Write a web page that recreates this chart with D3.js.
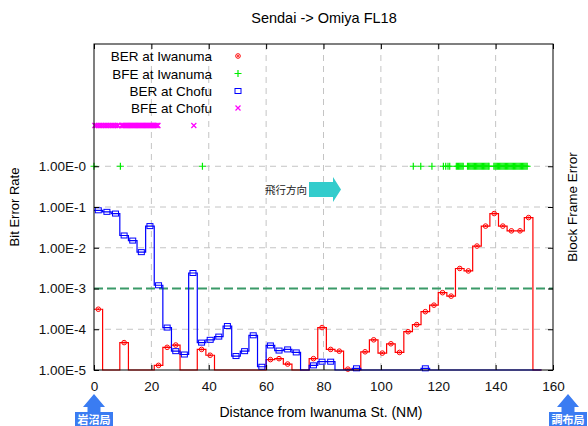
<!DOCTYPE html>
<html>
<head>
<meta charset="utf-8">
<script src="https://cdn.jsdelivr.net/npm/d3@7"></script>
<style>
body{margin:0;background:#fff;}
svg{font-family:"Liberation Sans",Arial,sans-serif;}
</style>
</head>
<body>
<svg id="chart" width="588" height="426"></svg>
<script>
// distance (NM) of each 3 NM sample
let berX=[1.5,4.5,7.5,10.5,13.5,16.5,19.5,22.5,25.5,28.5,31.5,34.5,37.5,40.5,43.5,46.5,49.5,52.5,55.5,58.5,
  61.5,64.5,67.5,70.5,73.5,76.5,79.5,82.5,85.5,88.5,91.5,94.5,97.5,100.5,103.5,106.5,109.5,112.5,115.5,118.5,
  121.5,124.5,127.5,130.5,133.5,136.5,139.5,142.5,145.5,148.5,151.5,154.5];
// 0 = no error measured (drawn on the bottom axis)
let berIwanuma=[3.1e-4,0,0,4.7e-5,0,0,0,1.3e-5,3.6e-5,4.1e-5,0,0,3.2e-5,2.3e-5,0,0,0,0,0,0,
  1.8e-5,1.9e-5,1.4e-5,0,0,1.9e-5,1.1e-4,3.2e-5,2.9e-5,1.05e-5,0,2.8e-5,5.5e-5,2.6e-5,4.4e-5,2.7e-5,8.7e-5,1.3e-4,2.7e-4,3.9e-4,
  7.9e-4,6.5e-4,3.1e-3,2.7e-3,1.1e-2,3.4e-2,6.9e-2,3.4e-2,2.6e-2,2.6e-2,5.5e-2,0];
let berChofu=[8.3e-2,7.6e-2,6.9e-2,2.0e-2,1.5e-2,7.8e-3,3.4e-2,1.2e-3,1.1e-4,2.9e-5,2.4e-5,2.4e-3,4.7e-5,5.5e-5,6.6e-5,1.2e-4,2.2e-5,2.9e-5,7.1e-5,1.2e-5,
  4.0e-5,3.0e-5,3.2e-5,2.7e-5,0,1.3e-5,1.6e-5,1.6e-5,0,0,1.1e-5,0,0,0,0,0,0,0,1.1e-5,0,
  0,0,0,0,0,0,0,0,0,0,0,0];
// block frame error events (distance, NM)
let bfeIwanuma=[0,9.2,37.8,111.3,113.9,117.8,121.8,122.6,123.4,124.0,
  126.3,126.7,127.1,127.5,127.9,128.3,128.7,
  130.2,130.6,131.0,131.4,131.8,132.2,132.6,133.0,133.4,133.8,134.2,134.6,135.0,135.4,135.8,136.2,136.6,137.0,137.4,137.7,
  139.4,139.8,140.2,140.6,141.0,141.4,141.8,142.2,142.6,143.0,143.4,143.8,144.2,144.6,145.0,145.4,145.8,146.2,146.6,
  147.0,147.4,147.8,148.2,148.6,149.0,149.4,149.8,150.2,150.6,151.0];
let bfeChofu=[0.3,0.9,1.5,2.1,2.7,3.3,3.9,4.5,5.1,5.7,6.3,6.9,7.5,8.1,8.4,
  9.6,10.0,10.4,10.8,11.2,11.6,12.0,12.4,12.8,13.2,13.6,14.0,14.4,14.8,15.2,15.6,16.0,16.4,16.8,17.2,17.6,18.0,
  18.4,18.8,19.2,19.6,20.0,20.4,20.8,21.2,21.6,22.0,22.3,34.8];
let xTicks=[0,20,40,60,80,100,120,140,160];
let yTicks=[1e-5,1e-4,1e-3,1e-2,1e-1,1e0];
let yTickLabels=['1.00E-5','1.00E-4','1.00E-3','1.00E-2','1.00E-1','1.00E-0'];
let threshold=1e-3;

let svg=d3.select('#chart');
let pLeft=94, pRight=553, pTop=44, pBottom=370;
let xScale=d3.scaleLinear().domain([0,160]).range([pLeft,pRight]);
let yScale=d3.scaleLog().domain([1e-5,1e3]).range([pBottom,pTop]);
let yv=v=>yScale(v>0?v:1e-5);

// grid
let grid=svg.append('g').attr('stroke','#c4c4c4').attr('stroke-dasharray','6,5').attr('stroke-width',1);
xTicks.filter(d=>d>0&&d<160).forEach(d=>{
  grid.append('line').attr('x1',xScale(d)).attr('x2',xScale(d)).attr('y1',pTop).attr('y2',pBottom);
});
yTicks.filter(d=>d>1e-5&&d!=threshold).forEach(d=>{
  grid.append('line').attr('x1',pLeft).attr('x2',pRight).attr('y1',yScale(d)).attr('y2',yScale(d));
});

// threshold line
svg.append('line').attr('x1',pLeft).attr('x2',pRight).attr('y1',yScale(threshold)).attr('y2',yScale(threshold))
  .attr('stroke','#3a9a68').attr('stroke-width',2).attr('stroke-dasharray','9,4');

// histeps
let stepPts=(vals)=>{
  let pts=[];
  vals.forEach((v,i)=>{pts.push([berX[i]-1.5,v]);pts.push([berX[i]+1.5,v]);});
  return pts;
};
let line=d3.line().x(d=>xScale(d[0])).y(d=>yv(d[1]));

svg.append('path').attr('d',line(stepPts(berIwanuma))).attr('fill','none').attr('stroke','#ff0000').attr('stroke-width',1.2);
svg.append('g').selectAll('g').data(berX.map((x,i)=>[x,berIwanuma[i]]).filter(d=>d[1]>0)).enter().append('g')
  .attr('transform',d=>'translate('+xScale(d[0])+','+yScale(d[1])+')')
  .each(function(){
    let g=d3.select(this);
    g.append('circle').attr('r',2.3).attr('fill','none').attr('stroke','#ff0000').attr('stroke-width',1);
    g.append('circle').attr('r',1).attr('fill','#ff0000');
  });

svg.append('path').attr('d',line(stepPts(berChofu))).attr('fill','none').attr('stroke','#0000ff').attr('stroke-width',1.2);
svg.append('g').selectAll('rect').data(berX.map((x,i)=>[x,berChofu[i]]).filter(d=>d[1]>0)).enter().append('rect')
  .attr('x',d=>xScale(d[0])-3).attr('y',d=>yScale(d[1])-2.5).attr('width',6).attr('height',5)
  .attr('fill','none').attr('stroke','#0000ff').attr('stroke-width',1);

// BFE markers
svg.append('g').attr('stroke','#00ee00').attr('stroke-width',1.2).selectAll('path').data(bfeIwanuma).enter().append('path')
  .attr('d',d=>{let cx=xScale(d),cy=yScale(1);return 'M'+(cx-3.5)+','+cy+'H'+(cx+3.5)+'M'+cx+','+(cy-3.5)+'V'+(cy+3.5);});
svg.append('g').attr('stroke','#ff00ff').attr('stroke-width',1.2).selectAll('path').data(bfeChofu).enter().append('path')
  .attr('d',d=>{let cx=xScale(d),cy=yScale(10),s=2.5;return 'M'+(cx-s)+','+(cy-s)+'L'+(cx+s)+','+(cy+s)+'M'+(cx-s)+','+(cy+s)+'L'+(cx+s)+','+(cy-s);});

// axes
let axL=d3.axisLeft(yScale).tickValues(yTicks).tickFormat((d,i)=>yTickLabels[i]).tickSizeInner(-5).tickSizeOuter(0).tickPadding(8);
let axR=d3.axisRight(yScale).tickValues(yTicks).tickFormat('').tickSizeInner(-5).tickSizeOuter(0);
let axB=d3.axisBottom(xScale).tickValues(xTicks).tickFormat(d3.format('d')).tickSizeInner(-5).tickSizeOuter(0).tickPadding(11);
let axT=d3.axisTop(xScale).tickValues(xTicks).tickFormat('').tickSizeInner(-5).tickSizeOuter(0);
[[axL,'translate('+pLeft+',0)'],[axR,'translate('+pRight+',0)'],[axB,'translate(0,'+pBottom+')'],[axT,'translate(0,'+pTop+')']].forEach(a=>{
  let g=svg.append('g').attr('transform',a[1]).call(a[0]);
  g.select('.domain').remove();
  g.selectAll('text').attr('font-size',13.5).attr('font-family','"Liberation Sans",Arial,sans-serif').attr('fill','#111');
  g.selectAll('line').attr('stroke','#000');
});
svg.append('rect').attr('x',pLeft).attr('y',pTop).attr('width',pRight-pLeft).attr('height',pBottom-pTop)
  .attr('fill','none').attr('stroke','#000').attr('stroke-width',1);

// titles
svg.append('text').attr('x',324).attr('y',23).attr('text-anchor','middle').attr('font-size',14.5).text('Sendai -> Omiya FL18');
svg.append('text').attr('x',321).attr('y',417).attr('text-anchor','middle').attr('font-size',14).text('Distance from Iwanuma St. (NM)');
svg.append('text').attr('transform','translate(19,207) rotate(-90)').attr('text-anchor','middle').attr('font-size',13).text('Bit Error Rate');
svg.append('text').attr('transform','translate(577,207) rotate(-90)').attr('text-anchor','middle').attr('font-size',13.5).text('Block Frame Error');

// legend
let legend=['BER at Iwanuma','BFE at Iwanuma','BER at Chofu','BFE at Chofu'];
let ly=[56,73.5,91,108];
legend.forEach((t,i)=>{
  svg.append('text').attr('x',212).attr('y',ly[i]+5).attr('text-anchor','end').attr('font-size',13.5).text(t);
});
let lx=238;
svg.append('circle').attr('cx',lx).attr('cy',ly[0]).attr('r',2.3).attr('fill','none').attr('stroke','#ff0000');
svg.append('circle').attr('cx',lx).attr('cy',ly[0]).attr('r',1).attr('fill','#ff0000');
svg.append('path').attr('d','M'+(lx-3.5)+','+ly[1]+'H'+(lx+3.5)+'M'+lx+','+(ly[1]-3.5)+'V'+(ly[1]+3.5)).attr('stroke','#00ee00').attr('stroke-width',1.2);
svg.append('rect').attr('x',lx-3).attr('y',ly[2]-2.5).attr('width',6).attr('height',5).attr('fill','none').attr('stroke','#0000ff');
svg.append('path').attr('d','M'+(lx-2.5)+','+(ly[3]-2.5)+'L'+(lx+2.5)+','+(ly[3]+2.5)+'M'+(lx-2.5)+','+(ly[3]+2.5)+'L'+(lx+2.5)+','+(ly[3]-2.5)).attr('stroke','#ff00ff').attr('stroke-width',1.2);

// flight direction
svg.append('text').attr('x',307).attr('y',194).attr('text-anchor','end').attr('font-size',10.5)
  .attr('font-family','"Noto Sans CJK JP",sans-serif').attr('fill','#222').text('飛行方向');
svg.append('path').attr('d','M309,182H333V177L341,189.5L333,202V197H309Z').attr('fill','#33cccc');

// station arrows
let station=(cx,label)=>{
  let g=svg.append('g');
  g.append('path').attr('d','M'+cx+',394L'+(cx+11)+',407H'+(cx+6.5)+'V413H'+(cx-6.5)+'V407H'+(cx-11)+'Z').attr('fill','#3a7cf2');
  g.append('rect').attr('x',cx-19).attr('y',412).attr('width',38).attr('height',14).attr('fill','#3a7cf2');
  g.append('text').attr('x',cx).attr('y',423.5).attr('text-anchor','middle').attr('font-size',11).attr('font-weight','bold')
    .attr('font-family','"Noto Sans CJK JP",sans-serif').attr('fill','#fff').text(label);
};
station(xScale(0),'岩沼局');
station(568,'調布局');
</script>
</body>
</html>
